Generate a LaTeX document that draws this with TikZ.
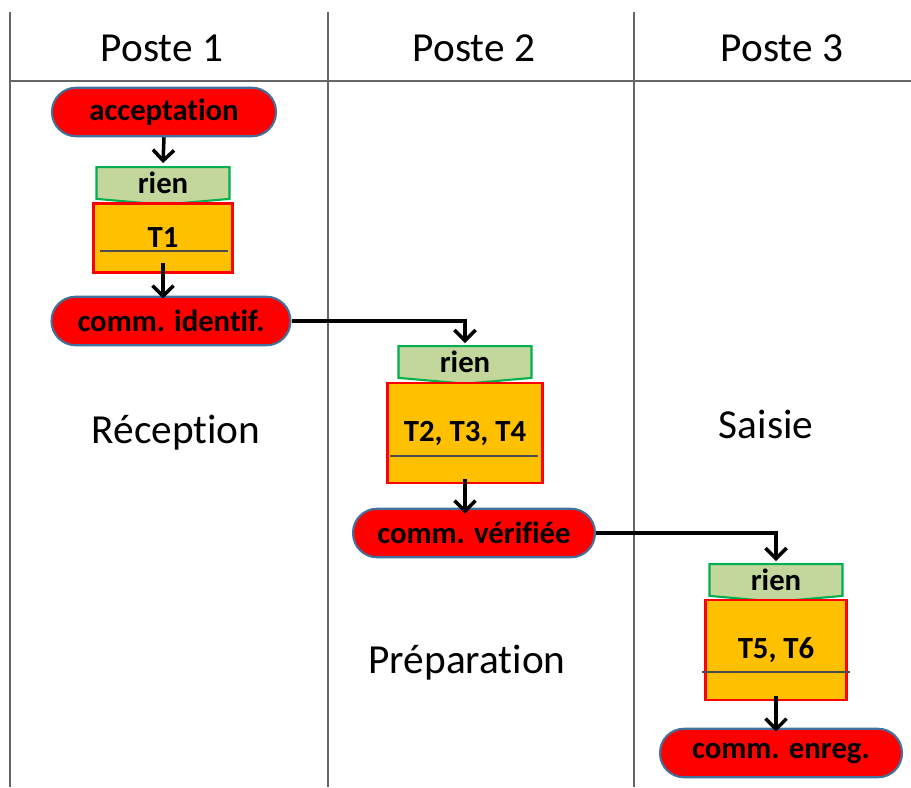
\documentclass[tikz,border=0pt]{standalone}
\usepackage{fontspec}
\setmainfont[Ligatures=NoCommon]{Carlito}
\usepackage{xcolor}
\usetikzlibrary{arrows.meta,shapes.symbols}

\definecolor{bordetat}{HTML}{41719C}
\definecolor{vertcond}{HTML}{00B050}
\definecolor{fondcond}{HTML}{C3D69B}
\definecolor{orangetache}{HTML}{FFC000}

\tikzset{
  etat/.style={rectangle,rounded corners=0.48cm,draw=bordetat,line width=1.2pt,fill=red,
    minimum height=0.97cm,inner sep=0pt,font=\fontsize{17.5}{20}\selectfont\bfseries},
  cond/.style={signal,signal to=south,signal pointer angle=170,draw=vertcond,fill=fondcond,
    line width=1.2pt,minimum width=2.66cm,minimum height=0.68cm,inner sep=0pt,
    font=\fontsize{17.5}{20}\selectfont\bfseries},
  tache/.style={rectangle,draw=red,fill=orangetache,line width=1.2pt,inner sep=0pt,
    font=\fontsize{17.5}{20}\selectfont\bfseries},
  fleche/.style={-{Straight Barb[length=6pt,width=12pt]},line width=2pt},
  lien/.style={line width=1.4pt},
  titre/.style={font=\fontsize{23.5}{28}\selectfont}
}

\begin{document}
\begin{tikzpicture}[x=0.02cm,y=-0.02cm]
            \useasboundingbox (0,0) rectangle (911,787);

            % couloirs
            \draw[gray!80!black,line width=0.6pt] (10,12) -- (10,787);
            \draw[gray!80!black,line width=0.6pt] (328,12) -- (328,787);
            \draw[gray!80!black,line width=0.6pt] (634,12) -- (634,787);
            \draw[gray!80!black,line width=0.8pt] (10,81) -- (911,81);

            \node[titre] (p1) at (162,48) {Poste 1};
            \node[titre] (p2) at (474,48) {Poste 2};
            \node[titre] (p3) at (782,48) {Poste 3};

            \node[titre] (rec) at (176,433) {Réception};
            \node[titre] (prep) at (467,663) {Préparation};
            \node[titre] (sais) at (766,424) {Saisie};

            % poste 1
            \node[etat,minimum width=4.48cm] (acc) at (164,112) {acceptation};
            \node[cond] (rien1) at (163,183) {rien};
            \node[tache,minimum width=2.78cm,minimum height=1.38cm] (t1) at (163,238) {T1};
            \draw[line width=0.6pt,black!70] (100,251) -- (228,251);
            \node[etat,minimum width=4.78cm] (ci) at (171,321) {comm. identif.};

            % poste 2
            \node[cond] (rien2) at (465,362) {rien};
            \node[tache,minimum width=3.1cm,minimum height=2cm] (t2) at (465,433) {T2, T3, T4};
            \draw[line width=0.6pt,black!70] (390,456) -- (538,456);
            \node[etat,minimum width=4.84cm] (cv) at (474,533) {comm. vérifiée};

            % poste 3
            \node[cond] (rien3) at (776,580) {rien};
            \node[tache,minimum width=2.82cm,minimum height=2cm] (t3) at (776,650) {T5, T6};
            \draw[line width=0.6pt,black!70] (702,672) -- (850,672);
            \node[etat,minimum width=4.84cm] (ce) at (781,753) {comm. enreg.};

            % fleches
            \draw[fleche] (acc.south) -- ([yshift=0.06cm]rien1.north);
            \draw[fleche] ([yshift=0.22cm]t1.south) -- ([yshift=-0.06cm]t1.south |- ci.north);
            \draw[lien,fleche] (ci.east) -| ([yshift=0.04cm]rien2.north);
            \draw[fleche] ([yshift=0.1cm]t2.south) -- ([yshift=-0.12cm]t2.south |- cv.north);
            \draw[lien,fleche] (cv.east) -| ([yshift=0.04cm]rien3.north);
            \draw[fleche] ([yshift=0.1cm]t3.south) -- ([yshift=-0.08cm]t3.south |- ce.north);
        \end{tikzpicture}
\end{document}
